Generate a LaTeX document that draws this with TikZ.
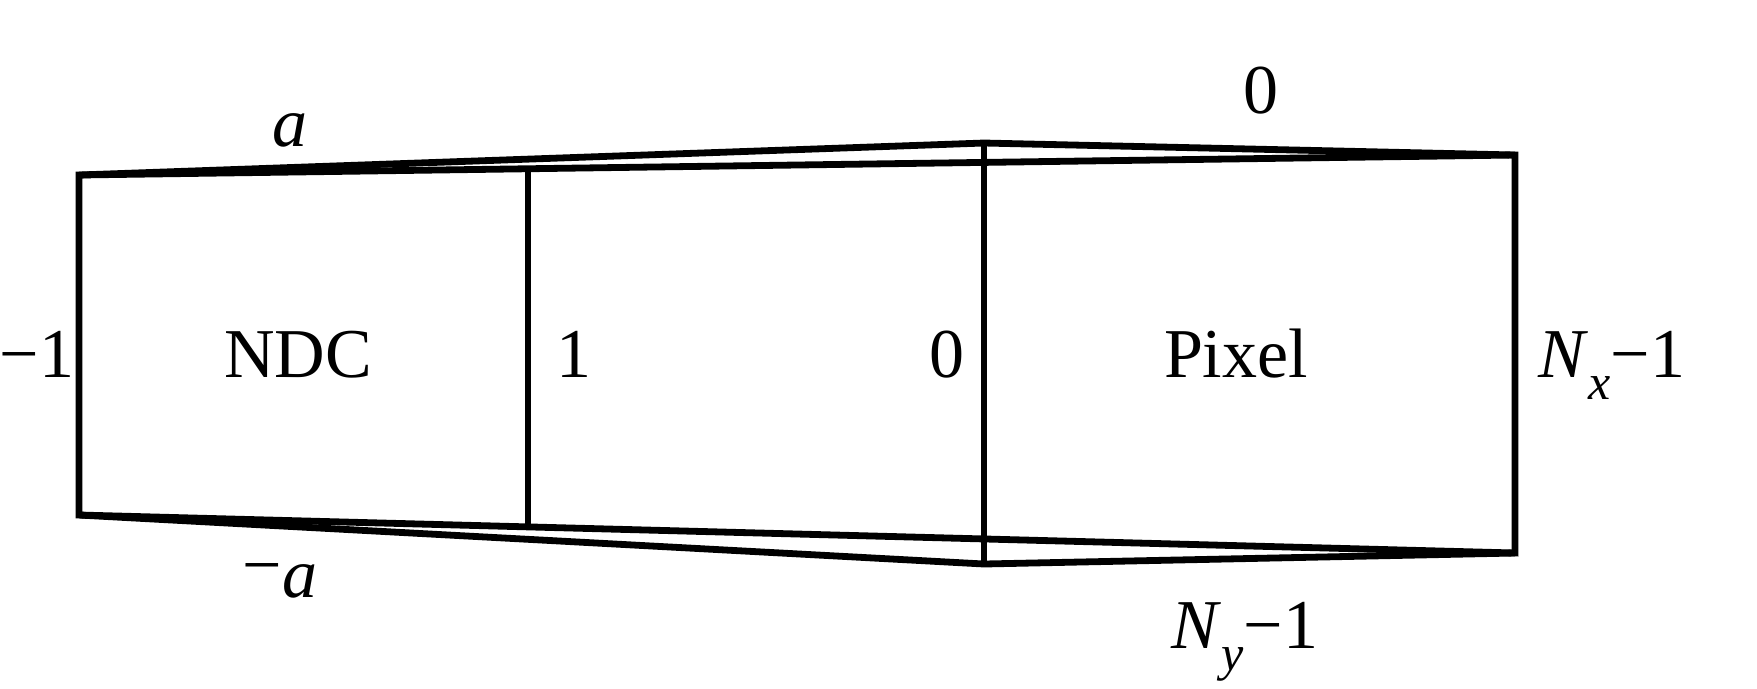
\documentclass[tikz,border=0pt]{standalone}
\usepackage{fontspec}
\setmainfont{Liberation Serif}
\usepackage{tikz}
\usetikzlibrary{positioning, calc}
\newcommand{\lowsub}[1]{\raisebox{-0.32em}{\fontsize{12.5}{14}\selectfont\textit{#1}}}

\begin{document}
\begin{tikzpicture}[x=0.25pt,y=-0.25pt]
                    \tikzstyle{every node}=[font=\fontsize{17.5}{21}\selectfont, inner sep=0pt]
                    \tikzstyle{frame} = [line width=1.7pt, line join=miter]
                    \tikzstyle{lbl} = [anchor=base]
                    \useasboundingbox (0,0) rectangle (1757,688);

                    % corners of the two frames
                    \coordinate (lt) at (79,175);
                    \coordinate (ct) at (984,143);
                    \coordinate (rt) at (1515,155);
                    \coordinate (lb) at (79,515);
                    \coordinate (cb) at (984,564);
                    \coordinate (rb) at (1515,553);
                    \coordinate (mt) at ($(lt)!0.3127!(rt)$);
                    \coordinate (mb) at ($(lb)!0.3127!(rb)$);

                    \draw[frame] (lt) -- (rt) -- (rb) -- (lb) -- cycle;
                    \draw[frame] (lt) -- (ct) -- (rt);
                    \draw[frame] (lb) -- (cb) -- (rb);
                    \draw[frame] (ct) -- (cb);
                    \draw[frame] (mt) -- (mb);

                    % labels
                    \node[lbl](ta) at (290,146) {\textit{a}};
                    \node[lbl](tma) at (280,597) {\raisebox{0.12em}{−}\textit{a}};
                    \node[lbl](lm1) at (37,377) {−1};
                    \node[lbl](ndc) at (298,377) {NDC};
                    \node[lbl](one) at (574,377) {1};
                    \node[lbl](zl) at (947,377) {0};
                    \node[lbl](pix) at (1236,377) {Pixel};
                    \node[lbl](nx) at (1612,377) {\textit{N}\lowsub{x}−1};
                    \node[lbl](zt) at (1261,113) {0};
                    \node[lbl](ny) at (1245,648) {\textit{N}\lowsub{y}−1};
            \end{tikzpicture}
\end{document}
